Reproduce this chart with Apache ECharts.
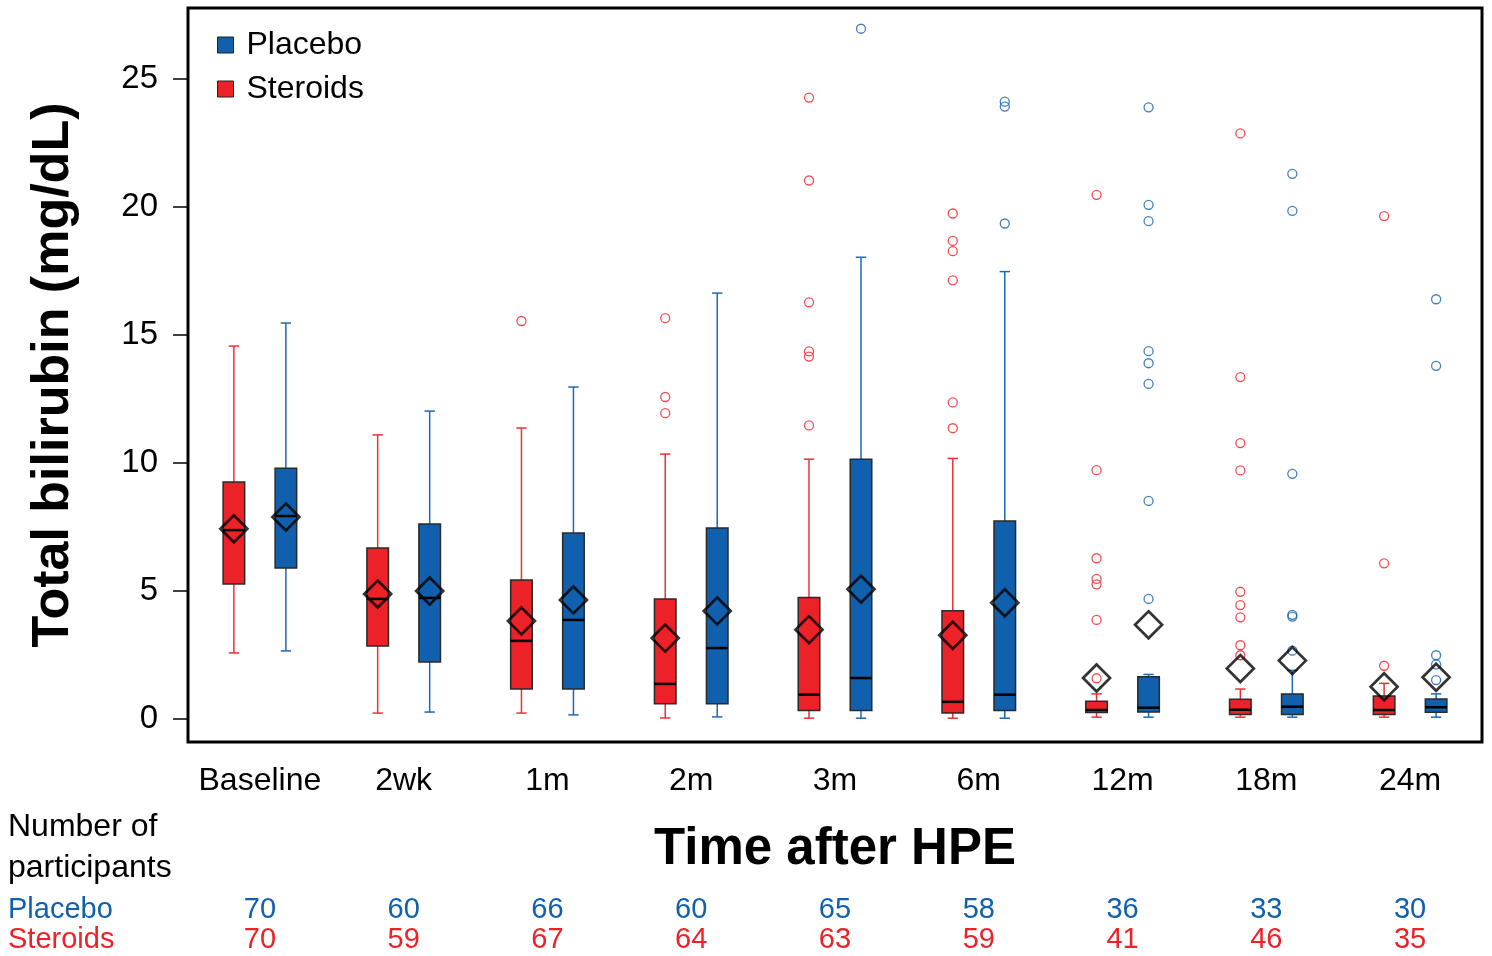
<!DOCTYPE html>
<html>
<head>
<meta charset="utf-8">
<script src="https://cdn.jsdelivr.net/npm/echarts@6/dist/echarts.min.js"></script>
<style>
  html, body { margin: 0; padding: 0; background: #fff; }
  #main { width: 1492px; height: 956px; }
</style>
</head>
<body>
<div id="main"></div>
<script>
// time points
const categories = ['Baseline', '2wk', '1m', '2m', '3m', '6m', '12m', '18m', '24m'];
const yTicks = [0, 5, 10, 15, 20, 25];

// [whisker low, Q1, median, Q3, whisker high]
const steroidsBox = [
  [2.58, 5.27, 7.38, 9.26, 14.57],
  [0.23, 2.85, 4.69, 6.68, 11.1],
  [0.23, 1.17, 3.05, 5.43, 11.37],
  [0.04, 0.59, 1.37, 4.69, 10.35],
  [0.03, 0.33, 0.95, 4.75, 10.15],
  [0.03, 0.23, 0.67, 4.23, 10.18],
  [0.07, 0.25, 0.35, 0.69, 0.98],
  [0.07, 0.17, 0.36, 0.77, 1.17],
  [0.07, 0.17, 0.35, 0.9, 1.39]
];
const placeboBox = [
  [2.66, 5.9, 7.93, 9.8, 15.47],
  [0.27, 2.23, 4.73, 7.62, 12.03],
  [0.16, 1.17, 3.87, 7.27, 12.97],
  [0.08, 0.59, 2.77, 7.46, 16.64],
  [0.03, 0.33, 1.6, 10.15, 18.04],
  [0.03, 0.33, 0.95, 7.74, 17.48],
  [0.07, 0.27, 0.44, 1.65, 1.74],
  [0.07, 0.17, 0.48, 0.98, 1.9],
  [0.07, 0.26, 0.46, 0.78, 0.98]
];
const steroidsMean = [7.43, 4.88, 3.83, 3.16, 3.49, 3.27, 1.6, 1.97, 1.26];
const placeboMean = [7.89, 5.0, 4.65, 4.22, 5.07, 4.54, 3.68, 2.28, 1.63];

const steroidsOutliers = [
  [], [], [15.55], [15.66, 12.58, 11.95],
  [24.28, 21.04, 16.28, 14.36, 14.16, 11.47],
  [19.75, 18.68, 18.28, 17.14, 12.37, 11.36],
  [20.48, 9.72, 6.28, 5.47, 5.26, 3.87, 1.59],
  [22.88, 13.36, 10.78, 9.71, 4.97, 4.45, 3.97, 2.88, 2.49],
  [19.65, 6.08, 2.08]
];
const placeboOutliers = [
  [], [], [], [], [26.97], [24.12, 23.93, 19.36],
  [23.9, 20.09, 19.45, 14.37, 13.9, 13.09, 8.52, 4.69],
  [21.3, 19.85, 9.58, 4.07, 4.0, 2.67],
  [16.4, 13.8, 2.49, 2.13, 1.52]
];

// number of participants
const placeboN = [70, 60, 66, 60, 65, 58, 36, 33, 30];
const steroidsN = [70, 59, 67, 64, 63, 59, 41, 46, 35];

const RED = '#ED2128';
const BLUE = '#1060AE';
const FONT = '"Liberation Sans", Arial, sans-serif';
const OFFSET = 26; // px from the centre of the time point

const chart = echarts.init(document.getElementById('main'));

function boxRender(side, fill, whisker) {
  return function (params, api) {
    const i = api.value(0);
    const band = api.size([1, 0])[0];
    const hw = band * 0.075;
    const cw = band * 0.036;
    const pts = [1, 2, 3, 4, 5].map(k => api.coord([i, api.value(k)]));
    const x = pts[0][0] + side * OFFSET;
    const yLow = pts[0][1], yQ1 = pts[1][1], yMed = pts[2][1], yQ3 = pts[3][1], yHigh = pts[4][1];
    const ws = { stroke: whisker, lineWidth: 1.5 };
    return {
      type: 'group',
      children: [
        { type: 'line', shape: { x1: x, y1: yLow, x2: x, y2: yQ1 }, style: ws },
        { type: 'line', shape: { x1: x, y1: yQ3, x2: x, y2: yHigh }, style: ws },
        { type: 'line', shape: { x1: x - cw, y1: yLow, x2: x + cw, y2: yLow }, style: ws },
        { type: 'line', shape: { x1: x - cw, y1: yHigh, x2: x + cw, y2: yHigh }, style: ws },
        { type: 'rect', shape: { x: x - hw, y: yQ3, width: hw * 2, height: yQ1 - yQ3 },
          style: { fill: fill, stroke: '#2a2a2a', lineWidth: 1.5 } },
        { type: 'line', shape: { x1: x - hw, y1: yMed, x2: x + hw, y2: yMed },
          style: { stroke: '#000', lineWidth: 2.5 } }
      ]
    };
  };
}

const toBoxData = arr => arr.map((b, i) => [i].concat(b));
const toPoints = arr => arr.flatMap((vals, i) => vals.map(v => [i, v]));

const countAxis = (data, color, margin) => ({
  type: 'category',
  data: data.map(String),
  position: 'bottom',
  axisLine: { show: false },
  axisTick: { show: false },
  axisLabel: { fontSize: 29, color: color, margin: margin, interval: 0, fontFamily: FONT }
});

chart.setOption({
  backgroundColor: '#fff',
  animation: false,
  textStyle: { fontFamily: FONT },
  grid: {
    left: 188, right: 10, top: 8, bottom: 214,
    show: true, borderColor: '#000', borderWidth: 3
  },
  legend: {
    orient: 'vertical',
    left: 217, top: 29,
    padding: 0,
    itemWidth: 16, itemHeight: 16, itemGap: 12,
    icon: 'rect',
    textStyle: { fontSize: 32, color: '#000', padding: [0, 0, 0, 8], fontFamily: FONT },
    data: [
      { name: 'Placebo', itemStyle: { color: BLUE, borderColor: '#222', borderWidth: 1 } },
      { name: 'Steroids', itemStyle: { color: RED, borderColor: '#222', borderWidth: 1 } }
    ]
  },
  xAxis: [
    {
      type: 'category',
      data: categories,
      axisLine: { show: false },
      axisTick: { show: false },
      axisLabel: { fontSize: 32, color: '#000', margin: 23, interval: 0, fontFamily: FONT },
      name: 'Time after HPE',
      nameLocation: 'middle',
      nameGap: 82,
      nameTextStyle: { fontSize: 51, fontWeight: 'bold', color: '#000', fontFamily: FONT }
    },
    countAxis(placeboN, BLUE, 153),
    countAxis(steroidsN, RED, 183)
  ],
  yAxis: {
    type: 'value',
    min: -0.9,
    max: 27.78,
    axisLine: { show: false },
    splitLine: { show: false },
    axisTick: { show: true, length: 15, lineStyle: { color: '#000', width: 1.5 }, customValues: yTicks },
    axisLabel: { fontSize: 33, color: '#000', margin: 30, customValues: yTicks, fontFamily: FONT },
    name: 'Total bilirubin (mg/dL)',
    nameLocation: 'middle',
    nameGap: 108,
    nameTextStyle: { fontSize: 52, fontWeight: 'bold', color: '#000', fontFamily: FONT }
  },
  series: [
    {
      name: 'Steroids',
      type: 'custom',
      renderItem: boxRender(-1, RED, '#EE3036'),
      itemStyle: { color: RED },
      encode: { x: 0, y: [1, 2, 3, 4, 5] },
      data: toBoxData(steroidsBox),
      z: 2
    },
    {
      name: 'Placebo',
      type: 'custom',
      renderItem: boxRender(1, BLUE, '#1C69B6'),
      itemStyle: { color: BLUE },
      encode: { x: 0, y: [1, 2, 3, 4, 5] },
      data: toBoxData(placeboBox),
      z: 2
    },
    {
      name: 'Steroids outliers',
      type: 'scatter',
      symbol: 'circle',
      symbolSize: 9,
      symbolOffset: [-OFFSET, 0],
      itemStyle: { color: 'rgba(0,0,0,0)', borderColor: RED, borderWidth: 1.3 },
      data: toPoints(steroidsOutliers),
      z: 3
    },
    {
      name: 'Placebo outliers',
      type: 'scatter',
      symbol: 'circle',
      symbolSize: 9,
      symbolOffset: [OFFSET, 0],
      itemStyle: { color: 'rgba(0,0,0,0)', borderColor: BLUE, borderWidth: 1.3 },
      data: toPoints(placeboOutliers),
      z: 3
    },
    {
      name: 'Steroids mean',
      type: 'scatter',
      symbol: 'diamond',
      symbolSize: 27,
      symbolOffset: [-OFFSET, 0],
      itemStyle: { color: 'rgba(0,0,0,0)', borderColor: '#000', borderWidth: 2.7 },
      data: steroidsMean.map((v, i) => [i, v]),
      z: 4
    },
    {
      name: 'Placebo mean',
      type: 'scatter',
      symbol: 'diamond',
      symbolSize: 27,
      symbolOffset: [OFFSET, 0],
      itemStyle: { color: 'rgba(0,0,0,0)', borderColor: '#000', borderWidth: 2.7 },
      data: placeboMean.map((v, i) => [i, v]),
      z: 4
    }
  ],
  graphic: [
    { type: 'text', left: 8, top: 807,
      style: { text: 'Number of\nparticipants', fontSize: 32, lineHeight: 41, fill: '#000', fontFamily: FONT } },
    { type: 'text', left: 8, top: 895,
      style: { text: 'Placebo', fontSize: 29, fill: BLUE, fontFamily: FONT } },
    { type: 'text', left: 8, top: 925,
      style: { text: 'Steroids', fontSize: 29, fill: RED, fontFamily: FONT } }
  ]
});
</script>
</body>
</html>
